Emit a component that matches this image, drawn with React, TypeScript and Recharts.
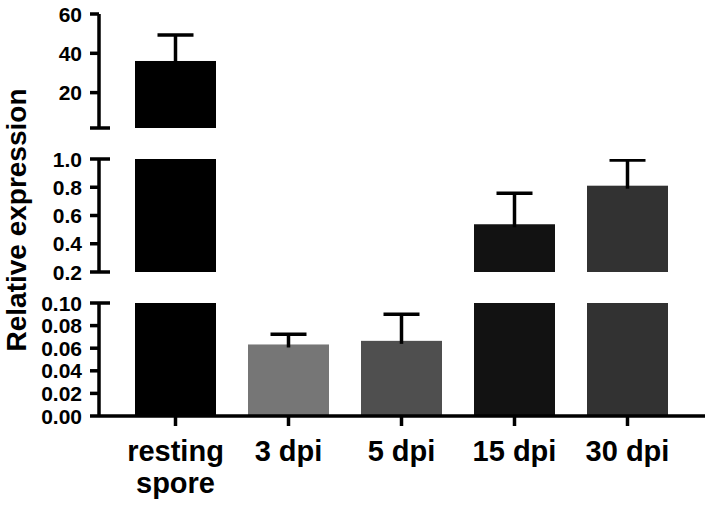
import React from "react";
import { BarChart, Bar, XAxis, YAxis, Cell } from "recharts";

const categories = ["resting\nspore", "3 dpi", "5 dpi", "15 dpi", "30 dpi"];
const means = [36.1, 0.0633, 0.0665, 0.538, 0.811];
const errors = [13.2, 0.0091, 0.0235, 0.219, 0.182];
const colors = ["#000000", "#767676", "#4f4f4f", "#121212", "#323232"];

const topTicks = [2, 20, 40, 60];
const middleTicks = [0.2, 0.4, 0.6, 0.8, 1.0];
const bottomTicks = [0, 0.02, 0.04, 0.06, 0.08, 0.1];

const W = 709;
const H = 505;
const FONT = "Arial, 'Liberation Sans', sans-serif";

interface Segment {
  lo: number;
  hi: number;
  ticks: number[];
  breaks: number[];
  digits: number;
  top: number;
  bottom: number;
  showX: boolean;
}

const segments: Segment[] = [
  { lo: 2, hi: 60, ticks: topTicks, breaks: [2], digits: 0, top: 14, bottom: H - 128, showX: false },
  { lo: 0.2, hi: 1.0, ticks: middleTicks, breaks: [0.2, 1.0], digits: 1, top: 159, bottom: H - 272, showX: false },
  { lo: 0, hi: 0.1, ticks: bottomTicks, breaks: [0.1], digits: 2, top: 303, bottom: 9, showX: true },
];

const segmentData = (s: Segment) =>
  categories.map((name, i) => {
    const v = means[i];
    const inside = v > s.lo;
    return {
      name,
      value: inside ? Math.min(v, s.hi) : null,
      err: inside && v <= s.hi ? errors[i] : null,
    };
  });

const makeShape = (lo: number) => (props: any) => {
  const { x, y, width, height, fill, payload } = props;
  if (height == null || height <= 0) return <g />;
  const cx = x + width / 2;
  let err = null;
  if (payload && payload.err != null && payload.value != null) {
    const pxPerUnit = height / (payload.value - lo);
    const ey = y - payload.err * pxPerUnit;
    err = (
      <g stroke="#000" strokeWidth={3.5}>
        <line x1={cx} x2={cx} y1={y + 3} y2={ey} />
        <line x1={cx - 18} x2={cx + 18} y1={ey} y2={ey} />
      </g>
    );
  }
  return (
    <g>
      <rect x={x} y={y} width={width} height={height} fill={fill} />
      {err}
    </g>
  );
};

const makeYTick = (s: Segment) => (props: any) => {
  const { x, y, payload } = props;
  const v = payload.value;
  const isBreak = s.breaks.some((b) => Math.abs(b - v) < 1e-9);
  const label = s.lo === 2 && v === 2 ? "" : v.toFixed(s.digits);
  return (
    <g>
      <line x1={x - 9} x2={isBreak ? x + 11 : x} y1={y} y2={y} stroke="#000" strokeWidth={3.5} />
      <text x={x - 17} y={y} dy="0.36em" textAnchor="end" fontFamily={FONT} fontWeight="bold" fontSize={21} fill="#000">
        {label}
      </text>
    </g>
  );
};

const XTick = (props: any) => {
  const { x, y, payload } = props;
  const lines = String(payload.value).split("\n");
  return (
    <text textAnchor="middle" fontFamily={FONT} fontWeight="bold" fontSize={29} fill="#000">
      {lines.map((l, i) => (
        <tspan key={i} x={x} y={y + 33 + i * 32}>
          {l}
        </tspan>
      ))}
    </text>
  );
};

export default function App() {
  return (
    <div style={{ position: "fixed", left: 0, top: 0, width: W, height: H, background: "#fff" }}>
      {segments.map((s, k) => (
        <div key={k} style={{ position: "absolute", left: 0, top: 0 }}>
          <BarChart
            width={W}
            height={H}
            data={segmentData(s)}
            margin={{ top: s.top, bottom: s.bottom, left: 0, right: 4 }}
            barSize={81}
          >
            <XAxis
              dataKey="name"
              hide={!s.showX}
              height={80}
              padding={{ left: 20, right: 21 }}
              axisLine={{ stroke: "#000", strokeWidth: 3.5 }}
              tickLine={{ stroke: "#000", strokeWidth: 3.5 }}
              tickSize={10}
              tick={<XTick />}
              interval={0}
            />
            <YAxis
              type="number"
              domain={[s.lo, s.hi]}
              ticks={s.ticks}
              allowDataOverflow
              width={99}
              tickSize={0}
              tickMargin={0}
              tickLine={false}
              axisLine={{ stroke: "#000", strokeWidth: 3.5 }}
              tick={makeYTick(s)}
              interval={0}
            />
            <Bar dataKey="value" isAnimationActive={false} shape={makeShape(s.lo)}>
              {categories.map((_, i) => (
                <Cell key={i} fill={colors[i]} />
              ))}
            </Bar>
          </BarChart>
        </div>
      ))}
      <div
        style={{
          position: "absolute",
          left: 17,
          top: 220,
          transform: "translate(-50%, -50%) rotate(-90deg)",
          whiteSpace: "nowrap",
          fontFamily: FONT,
          fontWeight: "bold",
          fontSize: 28,
          color: "#000",
        }}
      >
        Relative expression
      </div>
    </div>
  );
}
